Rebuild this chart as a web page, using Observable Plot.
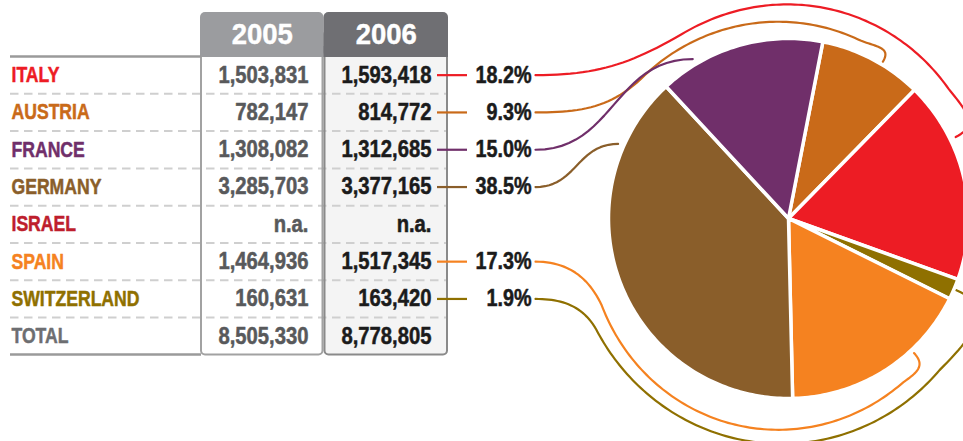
<!DOCTYPE html>
<html><head><meta charset="utf-8">
<script src="https://cdn.jsdelivr.net/npm/d3@7"></script>
<script src="https://cdn.jsdelivr.net/npm/@observablehq/plot@0.6"></script>
<style>
html,body{margin:0;padding:0;background:#fff;overflow:hidden;}
#chart{width:963px;height:441px;overflow:hidden;}
</style>
</head><body><div id="chart"></div>
<script>
// ---------- data ----------
const countries = ["ITALY","AUSTRIA","FRANCE","GERMANY","ISRAEL","SPAIN","SWITZERLAND"];
const values2005 = [1503831, 782147, 1308082, 3285703, null, 1464936, 160631];
const values2006 = [1593418, 814772, 1312685, 3377165, null, 1517345, 163420];
const years = ["2005","2006"];
const totalLabel = "TOTAL";
const naLabel = "n.a.";
const countryColors = ["#ed1c24","#c96a19","#702f6a","#8a5e2a","#be1e2d","#f58220","#8f7000"];
const pieOrder = ["AUSTRIA","ITALY","SWITZERLAND","SPAIN","GERMANY","FRANCE"];

// ---------- layout ----------
const W = 963, H = 441;
const rowTop = 56, rowH = 37.3;
const rowY = i => rowTop + (i + 0.5) * rowH;
const tableBottom = rowTop + 8 * rowH;
const headerTop = 12;
const labelX = 11;
const colX = {
  "2005": {x1: 201, x2: 322.5, tx: 308, head: "#9b9c9f", body: "#ffffff", border: "#a2a2a2", num: "#58595b"},
  "2006": {x1: 324.5, x2: 447, tx: 431, head: "#6f6f73", body: "#f4f4f4", border: "#8a8a8a", num: "#1b1b1b"}
};
const stubX1 = 437, stubX2 = 467, pctX = 531, connX = 535;
const cx = 788, cy = 218, R = 180, startDeg = 11;
const sans = "'Liberation Sans',Arial,sans-serif";

// connector routing (layout only)
const routes = {
  ITALY:       {type: "over",  a0: -30, R0: 213, lead: 13, R1: 206, bulge: 4,  f: 0.30, endR: 186},
  AUSTRIA:     {type: "over",  a0: -45, R0: 203, lead: 9,  R1: 192, bulge: 1,  f: 0.60, endR: 183},
  FRANCE:      {type: "direct", f: 0.22, endR: 186},
  GERMANY:     {type: "direct", f: 0.83, endR: 186},
  SPAIN:       {type: "under", a0: 245, R0: 206, lead: 8,  R1: 200, bulge: 10, f: 0.33, endR: 184},
  SWITZERLAND: {type: "under", a0: 240, R0: 222, lead: 22, R1: 214, bulge: 8,  f: 0.50, endR: 182}
};

// ---------- derived ----------
const fmt = d3.format(",");
const rows = countries.map((c, i) => ({name: c, v05: values2005[i], v06: values2006[i], color: countryColors[i], i}));
const total05 = d3.sum(values2005), total06 = d3.sum(values2006);
const allRows = [...rows, {name: totalLabel, v05: total05, v06: total06, color: "#6d6e71", i: 7}];
const pieRows = rows.filter(r => r.v06 != null);

const rad = d => d * Math.PI / 180;
const polar = (aDeg, r) => [cx + r * Math.sin(rad(aDeg)), cy - r * Math.cos(rad(aDeg))];

const pieData = pieOrder.map(n => rows.find(r => r.name === n));
const arcs = d3.pie().sort(null).value(d => d.v06)
  .startAngle(rad(startDeg)).endAngle(rad(startDeg + 360))(pieData);

const slices = arcs.map(a => {
  const a0 = a.startAngle * 180 / Math.PI, a1 = a.endAngle * 180 / Math.PI;
  const pts = [{x: cx, y: cy}];
  const n = Math.max(2, Math.ceil(a1 - a0));
  for (let k = 0; k <= n; k++) {
    const p = polar(a0 + (a1 - a0) * k / n, R);
    pts.push({x: p[0], y: p[1]});
  }
  pts.push({x: cx, y: cy});
  return {name: a.data.name, color: a.data.color, pts, a0, a1};
});

function bez(p0, p1, p2, p3, n = 24) {
  const out = [];
  for (let k = 0; k <= n; k++) {
    const t = k / n, u = 1 - t;
    out.push([
      u*u*u*p0[0] + 3*u*u*t*p1[0] + 3*u*t*t*p2[0] + t*t*t*p3[0],
      u*u*u*p0[1] + 3*u*u*t*p1[1] + 3*u*t*t*p2[1] + t*t*t*p3[1]
    ]);
  }
  return out;
}
const dist = (p, q) => Math.hypot(p[0] - q[0], p[1] - q[1]);

const connectors = pieRows.map(r => {
  const s = slices.find(d => d.name === r.name);
  const rt = routes[r.name];
  const y = rowY(r.i);
  const S = [connX, y];
  const endA = s.a0 + rt.f * (s.a1 - s.a0);
  const E = polar(endA, rt.endR);
  const outward = [Math.sin(rad(endA)), -Math.cos(rad(endA))];
  let pts;
  if (rt.type === "direct") {
    const dx = (E[0] - S[0]) * 0.5;
    pts = bez(S, [S[0] + dx, S[1]], [E[0] - dx, E[1]], E);
  } else {
    const dir = rt.type === "over" ? 1 : -1;
    const a0 = rt.a0, a1 = endA - dir * rt.lead;
    const tan = a => [dir * Math.cos(rad(a)), dir * Math.sin(rad(a))];
    const A0 = polar(a0, rt.R0);
    const k0 = dist(S, A0) * 0.4;
    const t0 = tan(a0);
    pts = bez(S, [S[0] + k0, S[1]], [A0[0] - t0[0] * k0, A0[1] - t0[1] * k0], A0);
    const n = Math.ceil(Math.abs(a1 - a0));
    for (let k = 1; k <= n; k++) {
      const t = k / n;
      const rr = rt.R0 + (rt.R1 - rt.R0) * t + rt.bulge * Math.sin(Math.PI * t);
      pts.push(polar(a0 + (a1 - a0) * t, rr));
    }
    const A1 = polar(a1, rt.R1);
    const t1 = tan(a1);
    const k1 = Math.max(8, dist(A1, E) * 0.55);
    pts = pts.concat(bez(A1, [A1[0] + t1[0] * k1, A1[1] + t1[1] * k1],
      [E[0] + outward[0] * k1, E[1] + outward[1] * k1], E).slice(1));
  }
  return {name: r.name, color: r.color, pts: pts.map(p => ({x: p[0], y: p[1]}))};
});

const sepYs = d3.range(1, 8).map(k => rowTop + k * rowH);

// horizontal condensing of text (no condensed face installed)
const squeeze = s => function(index, scales, values, dims, context, next) {
  const g = next(index, scales, values, dims, context);
  d3.select(g).selectAll("text").attr("transform", function() {
    return (this.getAttribute("transform") || "") + ` scale(${s},1)`;
  });
  return g;
};

// ---------- marks ----------
const marks = [];
marks.push(Plot.rect(years, {x1: d => colX[d].x1, x2: d => colX[d].x2, y1: 30, y2: tableBottom,
  fill: d => colX[d].body, rx: 4}));
marks.push(Plot.ruleY(sepYs, {y: d => d, x1: 10, x2: 446, stroke: "#cfcfcf", strokeWidth: 2, strokeDasharray: "8.5,5.5"}));
marks.push(Plot.rect(years, {x1: d => colX[d].x1, x2: d => colX[d].x2, y1: 30, y2: tableBottom,
  fill: "none", stroke: d => colX[d].border, strokeWidth: 2, rx: 4}));
marks.push(Plot.rect(years, {x1: d => colX[d].x1 - 1, x2: d => colX[d].x2 + 1, y1: headerTop, y2: rowTop + 1,
  fill: d => colX[d].head, rx: 5}));
marks.push(Plot.rect(years, {x1: d => colX[d].x1 - 1, x2: d => colX[d].x2 + 1, y1: rowTop - 10, y2: rowTop + 1,
  fill: d => colX[d].head}));
marks.push(Plot.ruleY([rowTop, tableBottom - 0.5], {y: d => d, x1: 10, x2: 201, stroke: "#9a9a9a", strokeWidth: 2.5}));
marks.push(Plot.text(years, {x: d => (colX[d].x1 + colX[d].x2) / 2, y: (rowTop + headerTop) / 2 + 0.5, text: d => d,
  fill: "white", stroke: "white", strokeWidth: 0.4, fontSize: 29, fontWeight: "bold", fontFamily: sans, render: squeeze(0.95)}));
marks.push(Plot.text(allRows, {x: labelX, y: d => rowY(d.i), text: "name", fill: "color", stroke: "color", strokeWidth: 0.5,
  textAnchor: "start", fontSize: 22, fontWeight: "bold", fontFamily: sans, render: squeeze(0.8)}));
for (const yr of years) {
  const key = yr === "2005" ? "v05" : "v06";
  marks.push(Plot.text(allRows, {x: colX[yr].tx, y: d => rowY(d.i), text: d => d[key] == null ? naLabel : fmt(d[key]),
    fill: colX[yr].num, stroke: colX[yr].num, strokeWidth: 0.5, textAnchor: "end", fontSize: 23, fontWeight: "bold",
    fontFamily: sans, render: squeeze(0.88)}));
}
marks.push(Plot.ruleY(pieRows, {y: d => rowY(d.i), x1: stubX1, x2: stubX2, stroke: "color", strokeWidth: 2.2}));
marks.push(Plot.text(pieRows, {x: pctX, y: d => rowY(d.i), text: d => d3.format(".1f")(d.v06 / total06 * 100) + "%",
  fill: "#1b1b1b", stroke: "#1b1b1b", strokeWidth: 0.5, textAnchor: "end", fontSize: 23, fontWeight: "bold",
  fontFamily: sans, render: squeeze(0.86)}));
for (const c of connectors) {
  marks.push(Plot.line(c.pts, {x: "x", y: "y", stroke: c.color, strokeWidth: 2.2}));
}
for (const s of slices) {
  marks.push(Plot.line(s.pts, {x: "x", y: "y", fill: s.color, stroke: "white", strokeWidth: 3.5, strokeLinejoin: "round"}));
}

const chart = Plot.plot({
  width: W, height: H, margin: 0,
  x: {domain: [0, W], range: [0, W], axis: null},
  y: {domain: [0, H], range: [0, H], axis: null},
  color: {type: "identity"},
  style: {background: "white", overflow: "hidden"},
  marks
});
document.getElementById("chart").appendChild(chart);
</script>
</body></html>
